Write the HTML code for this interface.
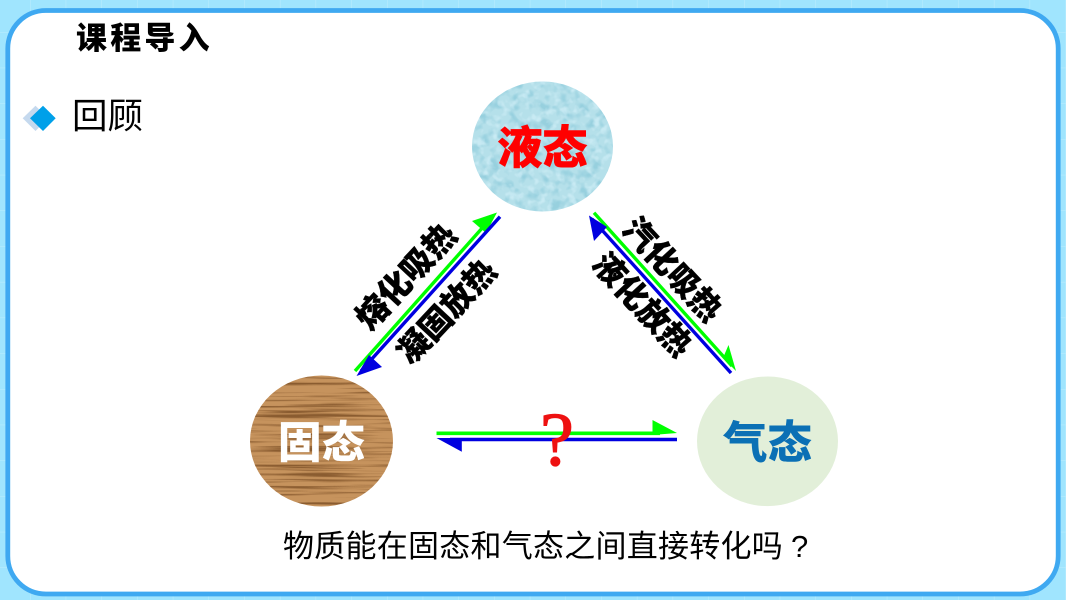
<!DOCTYPE html>
<html lang="zh-CN">
<head>
<meta charset="utf-8">
<style>
html,body{margin:0;padding:0;background:#a0e5fe;}
svg{display:block;}
text{font-family:"Liberation Sans","Noto Sans CJK SC",sans-serif;}
.b{font-weight:900;}
</style>
</head>
<body>
<svg width="1066" height="600" viewBox="0 0 1066 600" xmlns="http://www.w3.org/2000/svg">
<defs>
<pattern id="g" x="30" y="32" width="35.7" height="35.7" patternUnits="userSpaceOnUse">
<path d="M0 0V35.7M0 0H35.7" stroke="#bdedfe" stroke-width="1" fill="none"/>
</pattern>
<filter id="wood" x="0" y="0" width="100%" height="100%" color-interpolation-filters="sRGB">
<feTurbulence type="fractalNoise" baseFrequency="0.008 0.34" numOctaves="3" seed="4"/>
<feColorMatrix values="0 0 0 0 0.42  0 0 0 0 0.25  0 0 0 0 0.10  4 0 0 0 -1.95"/>
</filter>
<filter id="water" x="0" y="0" width="100%" height="100%" color-interpolation-filters="sRGB">
<feTurbulence type="fractalNoise" baseFrequency="0.1" numOctaves="2" seed="7"/>
<feColorMatrix values="0 0 0 0 0.45  0 0 0 0 0.74  0 0 0 0 0.82  4 0 0 0 -1.9"/>
</filter>
<filter id="water2" x="0" y="0" width="100%" height="100%" color-interpolation-filters="sRGB">
<feTurbulence type="fractalNoise" baseFrequency="0.13" numOctaves="2" seed="21"/>
<feColorMatrix values="0 0 0 0 0.88  0 0 0 0 0.97  0 0 0 0 1  4 0 0 0 -2"/>
</filter>
<clipPath id="cw"><ellipse cx="542.5" cy="146.5" rx="70.5" ry="65"/></clipPath>
<clipPath id="cs"><ellipse cx="321.5" cy="441" rx="71.5" ry="65.5"/></clipPath>
</defs>

<rect width="1066" height="600" fill="#a0e5fe"/>
<rect width="1066" height="600" fill="url(#g)"/>
<rect x="7.8" y="10.5" width="1050.4" height="583.5" rx="38" ry="38" fill="#fff" stroke="#3fa9f1" stroke-width="4.8"/>

<text x="76" y="49" font-size="31" class="b" letter-spacing="3.2">课程导入</text>

<polygon points="35.5,105.7 48,118.3 35.5,131 22.7,118.3" fill="#c5d9ee"/>
<polygon points="43,105.7 55.7,118.3 43,131 30,118.3" fill="#00a0e9"/>
<text x="72" y="128" font-size="35.5">回顾</text>

<!-- water circle -->
<ellipse cx="542.5" cy="146.5" rx="70.5" ry="65" fill="#b5e0ea"/>
<g clip-path="url(#cw)">
<rect x="470" y="80" width="146" height="134" filter="url(#water)" opacity=".45"/>
<rect x="470" y="80" width="146" height="134" filter="url(#water2)" opacity=".45"/>
</g>
<text x="542.5" y="163.5" font-size="45" class="b" fill="#ff0000" text-anchor="middle" stroke="#ff0000" stroke-width=".5">液态</text>

<!-- wood circle -->
<ellipse cx="321.5" cy="441" rx="71.5" ry="65.5" fill="#c6935d"/>
<g clip-path="url(#cs)">
<rect x="248" y="374" width="147" height="134" filter="url(#wood)" opacity=".65"/>
</g>
<text x="321.5" y="458" font-size="43.5" class="b" fill="#ffffff" text-anchor="middle">固态</text>

<!-- gas circle -->
<ellipse cx="767.5" cy="441.3" rx="70.5" ry="64.8" fill="#e2efd9"/>
<text x="767.5" y="458" font-size="44.5" class="b" fill="#0b70b5" text-anchor="middle">气态</text>

<!-- left arrows -->
<line x1="355" y1="371" x2="492" y2="217" stroke="#00ff00" stroke-width="3.4"/>
<polygon points="497,212.5 472,221 486,233" fill="#00ff00"/>
<line x1="500" y1="216.7" x2="361" y2="371" stroke="#0000e0" stroke-width="3.4"/>
<polygon points="356.5,376 382,367 369,355" fill="#0000e0"/>

<!-- right arrows -->
<line x1="594" y1="212.7" x2="732" y2="366" stroke="#00ff00" stroke-width="3.4"/>
<polygon points="736,371 728.5,345 723,358" fill="#00ff00"/>
<line x1="731" y1="373" x2="592" y2="219" stroke="#0000e0" stroke-width="3.4"/>
<polygon points="589,215.5 594,241 607,227" fill="#0000e0"/>

<!-- horizontal arrows -->
<line x1="436.5" y1="433.3" x2="660" y2="433.3" stroke="#00ff00" stroke-width="3.6"/>
<polygon points="677,433 652.5,420 652.5,435" fill="#00ff00"/>
<line x1="677" y1="439.5" x2="450" y2="439.5" stroke="#0000e0" stroke-width="3.6"/>
<polygon points="436.5,438 461.8,451.7 461.8,438" fill="#0000e0"/>

<text x="557" y="465" font-size="76" fill="#ee1111" stroke="#ee1111" stroke-width="1.2" text-anchor="middle" style="font-family:'Liberation Serif',serif">?</text>

<!-- rotated labels -->
<text transform="translate(405.5,276) rotate(-47)" y="12" font-size="32.5" class="b" text-anchor="middle" stroke="#000" stroke-width=".4">熔化吸热</text>
<text transform="translate(446,311) rotate(-47)" y="12" font-size="32" class="b" text-anchor="middle" stroke="#000" stroke-width=".4">凝固放热</text>
<text transform="translate(673,269) rotate(47)" y="12" font-size="32" class="b" text-anchor="middle" stroke="#000" stroke-width=".4">汽化吸热</text>
<text transform="translate(643,304) rotate(47)" y="12" font-size="32" class="b" text-anchor="middle" stroke="#000" stroke-width=".4">液化放热</text>

<text x="283" y="557" font-size="31" letter-spacing=".25">物质能在固态和气态之间直接转化吗</text>
<text x="791" y="557" font-size="31" style="font-family:'Liberation Sans',sans-serif">?</text>
</svg>
</body>
</html>
